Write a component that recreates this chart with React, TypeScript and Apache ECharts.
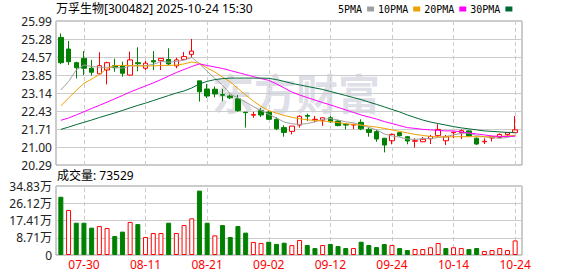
import React, { useEffect, useRef } from 'react';
import * as echarts from 'echarts';

const dates = [
  '07-25', '07-28', '07-29', '07-30', '07-31', '08-01', '08-04', '08-05', '08-06', '08-07',
  '08-08', '08-11', '08-12', '08-13', '08-14', '08-15', '08-18', '08-19', '08-20', '08-21',
  '08-22', '08-25', '08-26', '08-27', '08-28', '08-29', '09-01', '09-02', '09-03', '09-04',
  '09-05', '09-08', '09-09', '09-10', '09-11', '09-12', '09-15', '09-16', '09-17', '09-18',
  '09-19', '09-22', '09-23', '09-24', '09-25', '09-26', '09-29', '09-30', '10-09', '10-10',
  '10-13', '10-14', '10-15', '10-16', '10-17', '10-20', '10-21', '10-22', '10-23', '10-24',
];
const tickDates = ['07-30', '08-11', '08-21', '09-02', '09-12', '09-24', '10-14', '10-24'];

const openP = [
  25.34, 24.88, 24.34, 24.51, 24.12, 23.90, 24.05, 24.22, 24.21, 23.85,
  24.34, 24.12, 24.42, 24.42, 24.47, 24.21, 24.47, 24.67, 23.62, 23.30,
  23.29, 23.08, 23.02, 22.91, 22.38, 22.26, 22.44, 22.38, 22.10, 21.77,
  21.62, 21.87, 22.25, 22.08, 22.06, 22.16, 22.03, 21.90, 21.87, 21.98,
  21.70, 21.61, 21.35, 21.25, 21.57, 21.41, 21.23, 21.21, 21.33, 21.45,
  21.25, 21.57, 21.57, 21.64, 21.35, 21.21, 21.36, 21.38, 21.49, 21.57,
];
const closeP = [
  24.34, 24.38, 24.14, 24.12, 23.96, 24.22, 24.34, 24.14, 23.92, 24.45,
  24.30, 24.32, 24.37, 24.51, 24.29, 24.45, 24.58, 24.80, 23.19, 23.02,
  23.10, 23.05, 22.95, 22.44, 22.36, 22.29, 22.27, 22.10, 21.72, 21.58,
  21.83, 22.22, 22.22, 22.10, 22.16, 22.00, 21.85, 21.87, 21.90, 21.72,
  21.58, 21.32, 21.08, 21.50, 21.45, 21.24, 21.25, 21.31, 21.42, 21.70,
  21.41, 21.59, 21.65, 21.44, 21.12, 21.23, 21.41, 21.50, 21.57, 21.68,
];
const lowP = [
  24.28, 24.25, 23.72, 23.85, 23.83, 23.88, 23.48, 23.98, 23.79, 23.83,
  24.00, 24.05, 24.05, 24.05, 24.25, 24.12, 24.47, 24.54, 22.80, 22.94,
  22.97, 22.82, 22.90, 22.40, 21.77, 22.16, 22.19, 22.07, 21.67, 21.41,
  21.50, 21.77, 22.03, 21.98, 21.84, 21.96, 21.82, 21.70, 21.71, 21.67,
  21.41, 21.21, 20.79, 21.11, 21.42, 21.11, 20.98, 21.21, 21.12, 21.41,
  21.08, 21.35, 21.32, 21.42, 21.08, 21.12, 21.22, 21.35, 21.41, 21.57,
];
const highP = [
  25.50, 25.20, 24.38, 24.80, 24.45, 24.75, 24.38, 24.50, 24.38, 24.78,
  24.95, 24.42, 24.80, 24.51, 24.91, 24.54, 24.76, 25.28, 23.62, 23.50,
  23.40, 23.30, 23.08, 23.06, 22.38, 22.40, 22.55, 22.43, 22.18, 21.86,
  21.83, 22.26, 22.32, 22.23, 22.16, 22.23, 22.07, 21.94, 21.90, 22.10,
  21.77, 21.68, 21.35, 21.54, 21.60, 21.44, 21.35, 21.40, 21.48, 21.90,
  21.48, 21.61, 21.70, 21.66, 21.38, 21.35, 21.41, 21.54, 21.57, 22.23,
];

const volume = [
  294000, 227000, 163000, 163000, 138000, 146000, 136000, 96000, 118000, 167000,
  156000, 91000, 111000, 111000, 163000, 111000, 151000, 185000, 325000, 163000,
  99000, 151000, 91000, 146000, 113000, 66000, 61000, 67000, 56000, 62000,
  50000, 75700, 50500, 35000, 50500, 55500, 45000, 35000, 35000, 67000,
  50500, 40000, 55500, 50500, 35000, 25000, 30000, 30000, 39000, 60600,
  35000, 39000, 35000, 30000, 35000, 20000, 25000, 35000, 25000, 73529,
];
// 1 = red (rise), 0 = green (fall), as drawn in the volume panel
const volRise = [
  0, 1, 0, 0, 0, 1, 1, 0, 0, 1,
  0, 1, 1, 1, 0, 1, 1, 1, 0, 0,
  1, 0, 0, 0, 0, 1, 1, 0, 0, 0,
  1, 1, 0, 0, 1, 0, 0, 0, 1, 0,
  0, 0, 0, 1, 0, 0, 1, 1, 1, 1,
  0, 1, 1, 0, 0, 1, 1, 1, 1, 1,
];

const ma5 = [
  23.26, 23.59, 24.05, 24.25, 24.19, 24.16, 24.16, 24.16, 24.12, 24.21,
  24.23, 24.23, 24.27, 24.39, 24.36, 24.39, 24.44, 24.55, 24.30, 24.00,
  23.72, 23.45, 23.10, 22.95, 22.78, 22.60, 22.45, 22.29, 22.15, 21.99,
  21.92, 21.90, 21.93, 22.00, 22.10, 22.13, 22.07, 22.00, 21.96, 21.87,
  21.78, 21.68, 21.52, 21.44, 21.39, 21.32, 21.30, 21.34, 21.33, 21.38,
  21.42, 21.48, 21.54, 21.56, 21.45, 21.41, 21.37, 21.35, 21.38, 21.47,
];
const ma10 = [
  22.63, 22.94, 23.24, 23.52, 23.69, 23.87, 24.11, 24.23, 24.23, 24.23,
  24.21, 24.21, 24.21, 24.23, 24.23, 24.25, 24.29, 24.37, 24.31, 24.13,
  23.97, 23.77, 23.58, 23.32, 23.06, 22.82, 22.61, 22.45, 22.34, 22.25,
  22.18, 22.12, 22.08, 22.05, 22.03, 22.01, 21.97, 21.93, 21.89, 21.87,
  21.83, 21.79, 21.74, 21.68, 21.62, 21.56, 21.50, 21.46, 21.42, 21.40,
  21.40, 21.41, 21.41, 21.41, 21.41, 21.41, 21.41, 21.42, 21.44, 21.46,
];
const ma20 = [
  22.06, 22.15, 22.27, 22.40, 22.53, 22.65, 22.78, 22.91, 23.04, 23.18,
  23.30, 23.42, 23.54, 23.67, 23.81, 23.95, 24.07, 24.19, 24.29, 24.23,
  24.17, 24.11, 24.03, 23.95, 23.87, 23.79, 23.71, 23.64, 23.50, 23.34,
  23.18, 23.06, 22.96, 22.86, 22.76, 22.67, 22.57, 22.47, 22.37, 22.27,
  22.19, 22.11, 22.01, 21.93, 21.85, 21.77, 21.74, 21.70, 21.68, 21.66,
  21.64, 21.64, 21.60, 21.56, 21.52, 21.48, 21.44, 21.42, 21.42, 21.43,
];
const ma30 = [
  21.70, 21.79, 21.89, 21.98, 22.07, 22.17, 22.26, 22.35, 22.45, 22.55,
  22.65, 22.74, 22.84, 22.94, 23.04, 23.14, 23.22, 23.34, 23.50, 23.60,
  23.67, 23.71, 23.73, 23.73, 23.73, 23.73, 23.73, 23.72, 23.67, 23.60,
  23.52, 23.46, 23.40, 23.34, 23.28, 23.20, 23.12, 23.04, 22.96, 22.88,
  22.78, 22.69, 22.59, 22.49, 22.39, 22.27, 22.17, 22.07, 21.99, 21.93,
  21.87, 21.81, 21.76, 21.72, 21.68, 21.64, 21.62, 21.60, 21.58, 21.58,
];

const priceTicks = ['20.29', '21.00', '21.71', '22.43', '23.14', '23.85', '24.57', '25.28', '25.99'];
const volTicks = ['0', '8.71万', '17.41万', '26.12万', '34.83万'];
const volMax = 348300;

const FONT = "'Noto Sans', 'Noto Sans CJK SC', sans-serif";
const RED = '#ff0000';
const GREEN = '#008000';
const GRID_LINE = '#cccccc';

export default function App() {
  const ref = useRef<HTMLDivElement>(null);

  useEffect(() => {
    if (!ref.current) return;
    const chart = echarts.init(ref.current, null, { renderer: 'svg' });
    const priceMin = Number(priceTicks[0]);
    const priceMax = Number(priceTicks[priceTicks.length - 1]);

    const dashed = {
      symbol: 'none',
      silent: true,
      z: 1,
      label: { show: false },
      emphasis: { disabled: true },
      lineStyle: { color: GRID_LINE, type: [4, 3], width: 1 },
      data: tickDates.map((d) => ({ xAxis: d })),
    };

    const maSeries = [
      { name: '5PMA', data: ma5, color: '#a0a0a0' },
      { name: '10PMA', data: ma10, color: '#f0a000' },
      { name: '20PMA', data: ma20, color: '#ff00ff' },
      { name: '30PMA', data: ma30, color: '#006a35' },
    ].map((m) => ({
      type: 'line',
      name: m.name,
      xAxisIndex: 0,
      yAxisIndex: 0,
      data: m.data,
      symbol: 'none',
      z: 3,
      color: m.color,
      lineStyle: { width: 1, color: m.color },
    }));

    chart.setOption({
      animation: false,
      backgroundColor: '#ffffff',
      legend: {
        data: ['5PMA', '10PMA', '20PMA', '30PMA'],
        left: 338,
        top: 4,
        align: 'right',
        icon: 'rect',
        itemWidth: 7,
        itemHeight: 5,
        itemGap: 4,
        padding: 0,
        selectedMode: false,
        textStyle: { fontFamily: "'DejaVu Sans Mono', monospace", fontSize: 10, color: '#000' },
      },
      grid: [
        { left: 57, top: 21, width: 462, height: 144 },
        { left: 57, top: 186, width: 462, height: 69 },
        { left: 56, top: 21, width: 466, height: 144, show: true, borderColor: '#999', borderWidth: 1, backgroundColor: 'transparent' },
        { left: 56, top: 186, width: 466, height: 69, show: true, borderColor: '#999', borderWidth: 1, backgroundColor: 'transparent' },
      ],
      xAxis: [
        {
          type: 'category', gridIndex: 0, data: dates, boundaryGap: true,
          axisLine: { show: false }, axisTick: { show: false }, axisLabel: { show: false }, splitLine: { show: false },
        },
        {
          type: 'category', gridIndex: 1, data: dates, boundaryGap: true,
          axisLine: { show: false }, axisTick: { show: false }, splitLine: { show: false },
          axisLabel: {
            show: true,
            interval: (_i: number, v: string) => tickDates.includes(v),
            color: RED, fontSize: 12, fontFamily: FONT, margin: 3,
          },
        },
        { type: 'value', gridIndex: 2, min: 0, max: 1, show: false },
        { type: 'value', gridIndex: 3, min: 0, max: 1, show: false },
      ],
      yAxis: [
        { type: 'value', gridIndex: 0, min: priceMin, max: priceMax, show: false },
        { type: 'value', gridIndex: 1, min: 0, max: volMax, show: false },
        {
          type: 'value', gridIndex: 2, min: 0, max: priceTicks.length - 1, interval: 1,
          axisLine: { show: false }, axisTick: { show: false },
          axisLabel: { formatter: (v: number) => priceTicks[Math.round(v)], color: '#222', fontSize: 12, fontFamily: FONT, margin: 4 },
          splitLine: { show: true, lineStyle: { color: GRID_LINE, width: 1 } },
        },
        {
          type: 'value', gridIndex: 3, min: 0, max: volTicks.length - 1, interval: 1,
          axisLine: { show: false }, axisTick: { show: false },
          axisLabel: { formatter: (v: number) => volTicks[Math.round(v)], color: '#222', fontSize: 12, fontFamily: FONT, margin: 4 },
          splitLine: { show: true, lineStyle: { color: GRID_LINE, width: 1 } },
        },
      ],
      graphic: [
        {
          type: 'text', left: 56, top: 2, z: 10,
          style: { text: '万孚生物[300482] 2025-10-24 15:30', fill: '#000', fontSize: 12, fontFamily: FONT },
        },
        {
          type: 'text', left: 57, top: 169, z: 10,
          style: { text: '成交量: ' + volume[volume.length - 1], fill: '#000', fontSize: 12, fontFamily: FONT },
        },
        {
          type: 'text', x: 212, y: 70, z: 0,
          style: { text: '东方财富', fill: '#dfdfe7', fontSize: 42, fontWeight: 'bold', fontFamily: "'Noto Sans CJK SC', sans-serif" },
        },
      ],
      series: [
        {
          type: 'candlestick',
          name: 'K',
          xAxisIndex: 0,
          yAxisIndex: 0,
          barWidth: 5,
          data: dates.map((_, i) => [openP[i], closeP[i], lowP[i], highP[i]]),
          itemStyle: { color: '#ffffff', color0: GREEN, borderColor: RED, borderColor0: GREEN, borderWidth: 1 },
          markLine: dashed,
        },
        ...maSeries,
        {
          type: 'bar',
          name: 'VOL',
          xAxisIndex: 1,
          yAxisIndex: 1,
          barWidth: 5,
          data: volume.map((v, i) => ({
            value: v,
            itemStyle: volRise[i]
              ? { color: '#ffffff', borderColor: RED, borderWidth: 1 }
              : { color: GREEN, borderColor: GREEN, borderWidth: 1 },
          })),
          markLine: dashed,
        },
      ],
    });

    return () => chart.dispose();
  }, []);

  return (
    <div
      ref={ref}
      style={{ position: 'fixed', left: 0, top: 0, width: 578, height: 276, background: '#fff' }}
    />
  );
}
